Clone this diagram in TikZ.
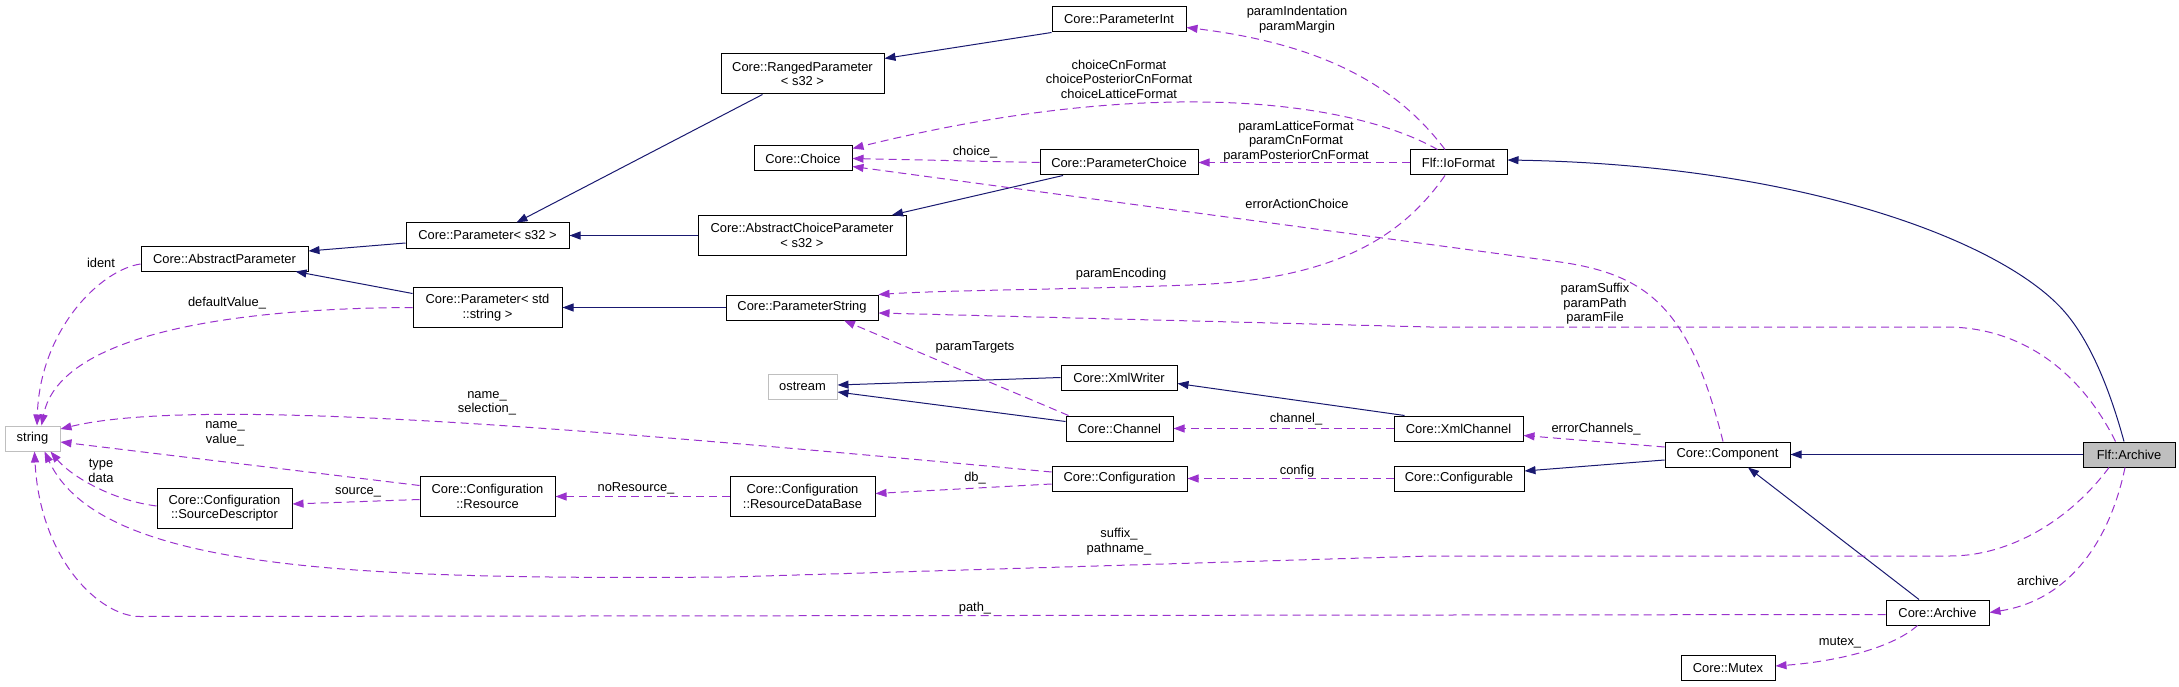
\documentclass[tikz,border=0pt]{standalone}
\usepackage{fontspec}
\setmainfont{Liberation Sans}
\usetikzlibrary{arrows.meta}
\definecolor{edgeblue}{HTML}{191970}
\definecolor{edgepurple}{HTML}{9A32CD}
\definecolor{boxgray}{HTML}{BFBFBF}
\begin{document}
\begin{tikzpicture}[x=1pt,y=-1pt,
        cls/.style={draw=black, line width=1pt, fill=white, inner sep=0pt, minimum height=25pt, align=center, font=\fontsize{12.9}{14.6}\selectfont},
        ext/.style={cls, draw=boxgray},
        lbl/.style={inner sep=0pt, align=center, font=\fontsize{12.9}{14.6}\selectfont},
        inh/.style={draw=edgeblue, line width=1pt, -{Triangle[length=11pt,width=8pt]}},
        usedby/.style={draw=edgepurple, line width=1pt, dash pattern=on 8pt off 5pt, -{Triangle[length=11pt,width=8pt]}}]
            \useasboundingbox (0,0) rectangle (2179,687);
            \node[cls, minimum width=134pt] (paramInt) at (1119,19.5) {Core::ParameterInt};
            \node[cls, minimum width=163pt, minimum height=40pt] (rangedParam) at (802.5,74) {Core::RangedParameter\\< s32 >};
            \node[cls, minimum width=98pt] (choice) at (803,158.5) {Core::Choice};
            \node[cls, minimum width=158pt] (paramChoice) at (1119,162.5) {Core::ParameterChoice};
            \node[cls, minimum width=208pt, minimum height=40pt] (absChoice) at (802,235.5) {Core::AbstractChoiceParameter\\< s32 >};
            \node[cls, minimum width=152pt] (paramString) at (802,307.5) {Core::ParameterString};
            \node[cls, minimum width=97pt] (ioFormat) at (1458.5,162.5) {Flf::IoFormat};
            \node[cls, minimum width=167pt] (absParam) at (224.5,258.5) {Core::AbstractParameter};
            \node[cls, minimum width=163pt] (paramS32) at (487.5,235.5) {Core::Parameter< s32 >};
            \node[cls, minimum width=149pt, minimum height=40pt] (paramStd) at (487.5,307.5) {Core::Parameter< std\\::string >};
            \node[ext, minimum width=55pt] (str) at (32.5,438.5) {string};
            \node[cls, minimum width=135pt, minimum height=40pt] (srcDesc) at (224.5,508) {Core::Configuration\\::SourceDescriptor};
            \node[cls, minimum width=135pt, minimum height=40pt] (resource) at (487.5,496.5) {Core::Configuration\\::Resource};
            \node[cls, minimum width=145pt, minimum height=40pt] (resDb) at (802.5,496.5) {Core::Configuration\\::ResourceDataBase};
            \node[ext, minimum width=69pt] (ostream) at (802.5,386.5) {ostream};
            \node[cls, minimum width=116pt] (xmlWriter) at (1119,377.5) {Core::XmlWriter};
            \node[cls, minimum width=107pt] (channel) at (1119.5,428.5) {Core::Channel};
            \node[cls, minimum width=135pt] (configuration) at (1119.5,478.5) {Core::Configuration};
            \node[cls, minimum width=129pt] (xmlChannel) at (1458.5,428.5) {Core::XmlChannel};
            \node[cls, minimum width=130pt] (configurable) at (1459,478.5) {Core::Configurable};
            \node[cls, minimum width=125pt] (component) at (1727.5,454.5) {Core::Component};
            \node[cls, fill=boxgray, minimum width=92pt] (flfArchive) at (2129,454.5) {Flf::Archive};
            \node[cls, minimum width=103pt] (coreArchive) at (1937.5,612.5) {Core::Archive};
            \node[cls, minimum width=94pt] (mutex) at (1728,668) {Core::Mutex};
            \draw[inh] (paramInt.south west) -- ([yshift=-5pt]rangedParam.north east);
            \draw[inh] ([xshift=-40pt]rangedParam.south) -- ([xshift=29pt]paramS32.north);
            \draw[inh] ([yshift=-7.5pt]paramS32.west) -- ([yshift=7.5pt]absParam.east);
            \draw[inh] ([yshift=14pt]paramStd.west) -- ([xshift=-13pt]absParam.south east);
            \draw[inh] (absChoice.west) -- (paramS32.east);
            \draw[inh] ([xshift=-56pt]paramChoice.south) -- ([xshift=90pt]absChoice.north);
            \draw[inh] (paramString.west) -- (paramStd.east);
            \draw[inh] (xmlWriter.west) -- ([yshift=1.5pt]ostream.east);
            \draw[inh] ([yshift=7pt]channel.west) -- ([yshift=-5.5pt]ostream.east);
            \draw[inh] ([xshift=11pt]xmlChannel.north west) -- ([yshift=-6pt]xmlWriter.east);
            \draw[inh] ([yshift=-5.5pt]component.west) -- ([yshift=7.5pt]configurable.east);
            \draw[inh] (flfArchive.west) -- (component.east);
            \draw[inh] ([xshift=-18.5pt]coreArchive.north) -- ([xshift=20.5pt]component.south);
            \draw[inh] ([xshift=-5pt]flfArchive.north) .. controls (2110,390) and (2090,340) .. (2063,310) .. controls (2000,240) and (1800,165) .. ([yshift=2.5pt]ioFormat.east);
            \draw[usedby] ([yshift=-5.5pt]absParam.west) .. controls (100,270) and (40,330) .. ([xshift=4.5pt]str.north);
            \draw[usedby] (paramStd.west) .. controls (250,308) and (60,330) .. ([xshift=9pt]str.north);
            \draw[usedby] ([yshift=6.5pt]configuration.west) .. controls (600,430) and (200,395) .. ([yshift=9.5pt]str.east);
            \draw[usedby] ([yshift=11pt]resource.west) -- ([yshift=-3.5pt]str.east);
            \draw[usedby] ([yshift=2pt]srcDesc.west) .. controls (110,500) and (70,475) .. ([xshift=18pt]str.south);
            \draw[usedby] ([xshift=-20pt]flfArchive.south) .. controls (2070,520) and (2010,556) .. (1950,556) -- (1430,556) -- (730,577) .. controls (350,580) and (100,570) .. ([xshift=12pt]str.south);
            \draw[usedby] ([yshift=-2pt]coreArchive.west) -- (140,616.5) .. controls (100,616.5) and (40,560) .. ([xshift=2pt]str.south);
            \draw[usedby] ([yshift=-3pt]resource.west) -- ([yshift=4pt]srcDesc.east);
            \draw[usedby] (resDb.west) -- (resource.east);
            \draw[usedby] ([yshift=-5.5pt]configuration.west) -- ([yshift=3pt]resDb.east);
            \draw[usedby] (configurable.west) -- (configuration.east);
            \draw[usedby] (xmlChannel.west) -- (channel.east);
            \draw[usedby] ([yshift=7.5pt]component.west) -- ([yshift=-7pt]xmlChannel.east);
            \draw[usedby] ([xshift=-4.5pt]component.north) .. controls (1690,310) and (1650,275) .. (1560,262) -- ([yshift=-8pt]choice.east);
            \draw[usedby] (paramChoice.west) -- (choice.east);
            \draw[usedby] ([xshift=-21pt]ioFormat.north) .. controls (1350,100) and (1150,75) .. ([yshift=10pt]choice.east);
            \draw[usedby] (ioFormat.west) -- (paramChoice.east);
            \draw[usedby] ([xshift=-13.5pt]ioFormat.north) .. controls (1400,90) and (1330,45) .. ([yshift=-8pt]paramInt.east);
            \draw[usedby] ([xshift=-13.5pt]ioFormat.south) .. controls (1400,240) and (1330,280) .. (1190,285) .. controls (1050,290) and (950,290) .. ([yshift=13pt]paramString.east);
            \draw[usedby] ([xshift=-13.5pt]flfArchive.north) .. controls (2080,370) and (2020,327) .. (1946,327) -- (1430,327) -- ([yshift=-5.5pt]paramString.east);
            \draw[usedby] ([xshift=3pt]channel.north west) -- ([xshift=42pt]paramString.south);
            \draw[usedby] ([xshift=-4pt]flfArchive.south) .. controls (2110,540) and (2070,600) .. (coreArchive.east);
            \draw[usedby] ([xshift=-20pt]coreArchive.south) .. controls (1890,650) and (1830,662) .. ([yshift=2pt]mutex.east);
            \node[lbl] (lIdent) at (101,263) {ident};
            \node[lbl] (lDefault) at (227,303) {defaultValue\_};
            \node[lbl] (lIndent) at (1297,19.5) {paramIndentation\\paramMargin};
            \node[lbl] (lChoiceFmt) at (1119,79) {choiceCnFormat\\choicePosteriorCnFormat\\choiceLatticeFormat};
            \node[lbl] (lParamFmt) at (1296,141.5) {paramLatticeFormat\\paramCnFormat\\paramPosteriorCnFormat};
            \node[lbl] (lChoice) at (975,152) {choice\_};
            \node[lbl] (lErrAction) at (1297,204) {errorActionChoice};
            \node[lbl] (lEncoding) at (1121,274) {paramEncoding};
            \node[lbl] (lSuffix) at (1595,304) {paramSuffix\\paramPath\\paramFile};
            \node[lbl] (lTargets) at (975,347) {paramTargets};
            \node[lbl] (lSelection) at (487,403.5) {name\_\\selection\_};
            \node[lbl] (lValue) at (225,434) {name\_\\value\_};
            \node[lbl] (lType) at (101,471) {type\\data};
            \node[lbl] (lSource) at (358,492) {source\_};
            \node[lbl] (lNoRes) at (636,488) {noResource\_};
            \node[lbl] (lChannel) at (1296,419) {channel\_};
            \node[lbl] (lConfig) at (1297,471) {config};
            \node[lbl] (lDb) at (975,478) {db\_};
            \node[lbl] (lPathname) at (1119,541.5) {suffix\_\\pathname\_};
            \node[lbl] (lPath) at (975,608) {path\_};
            \node[lbl] (lErrChannels) at (1596,429) {errorChannels\_};
            \node[lbl] (lArchive) at (2038,581) {archive};
            \node[lbl] (lMutex) at (1840,643) {mutex\_};
        \end{tikzpicture}
\end{document}
